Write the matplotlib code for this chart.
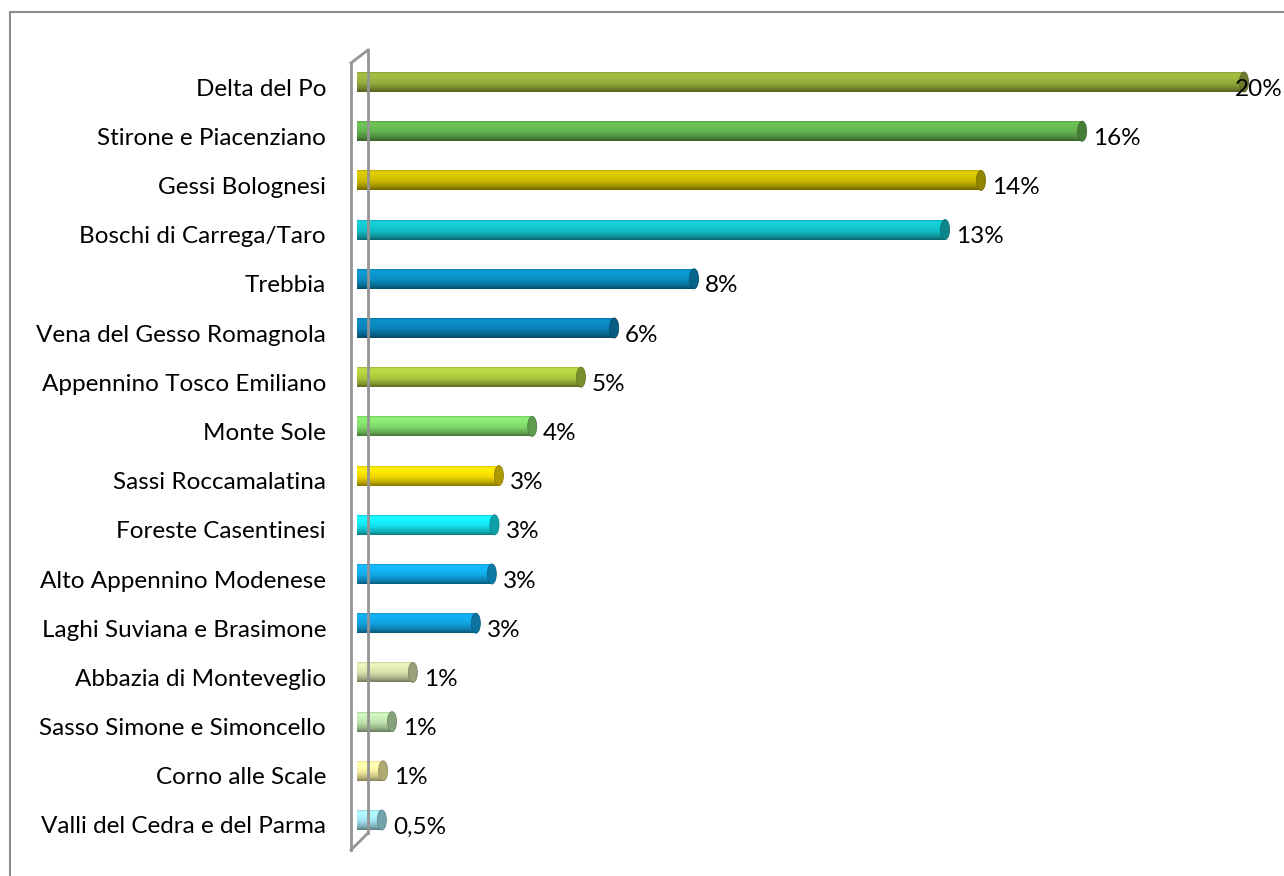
import numpy as np
import matplotlib
matplotlib.use("Agg")
import matplotlib.pyplot as plt
from matplotlib.patches import Ellipse, Rectangle
from matplotlib.lines import Line2D
from matplotlib.colors import to_rgb

plt.rcParams['font.family'] = ['Lato', 'DejaVu Sans']

categories = ["Delta del Po", "Stirone e Piacenziano", "Gessi Bolognesi",
              "Boschi di Carrega/Taro", "Trebbia", "Vena del Gesso Romagnola",
              "Appennino Tosco Emiliano", "Monte Sole", "Sassi Roccamalatina",
              "Foreste Casentinesi", "Alto Appennino Modenese",
              "Laghi Suviana e Brasimone", "Abbazia di Monteveglio",
              "Sasso Simone e Simoncello", "Corno alle Scale",
              "Valli del Cedra e del Parma"]
values = [20.0, 16.35, 14.07, 13.26, 7.6, 5.8, 5.05, 3.95, 3.2, 3.1, 3.04,
          2.68, 1.26, 0.79, 0.59, 0.56]
value_labels = ["20%", "16%", "14%", "13%", "8%", "6%", "5%", "4%", "3%", "3%",
                "3%", "3%", "1%", "1%", "1%", "0,5%"]
colors = ["#94ab3c", "#62b04e", "#c9b800", "#12bcc4", "#0a8cc0", "#0a80b4",
          "#aac63c", "#80d86a", "#f0d600", "#14e0ec", "#12a8e6", "#12a0dc",
          "#d4deaa", "#bcdfaa", "#f4eba0", "#a2e2ee"]

W, H = 1284, 876
fig = plt.figure(figsize=(W / 100, H / 100), dpi=100)

# chart-area border
fig.add_artist(Rectangle((10 / W, -0.05), 1.1, 1 - 12 / H + 0.05,
                         transform=fig.transFigure, fill=False,
                         edgecolor="#8c8c8c", linewidth=1.5))

# axes geometry (pixels)
x0_px, px_per_unit = 357, 44.35
ax_left_px, ax_right_px = 357, 1284
y_top_px, y_bot_px = 50, 850
yc0, ystep = 82, 49.2

ax = fig.add_axes([ax_left_px / W, 1 - y_bot_px / H,
                   (ax_right_px - ax_left_px) / W, (y_bot_px - y_top_px) / H])
ax.set_xlim(0, (ax_right_px - x0_px) / px_per_unit)
ylo = (y_top_px - yc0) / ystep
yhi = (y_bot_px - yc0) / ystep
ax.set_ylim(yhi, ylo)
ax.axis("off")

# 3D wall lines (figure pixel coords)
def fline(xs, ys):
    fig.add_artist(Line2D([x / W for x in xs], [1 - y / H for y in ys],
                          color="#949494", linewidth=2, transform=fig.transFigure))

fline([351, 351], [63, 850])
fline([368, 368], [50, 833])
fline([351, 368], [63, 50])
fline([351, 368], [850, 833])

bh = 20 / ystep
cap_w = 9 / px_per_unit
t = np.linspace(0, 1, 60)
prof = np.interp(t, [0, 0.08, 0.3, 0.55, 0.8, 1.0], [0.92, 1.12, 1.08, 1.0, 0.8, 0.55])
vmax = max(values)

for i, (v, c, lab) in enumerate(zip(values, colors, value_labels)):
    rgb = np.array(to_rgb(c))
    img = np.clip(prof[:, None, None] * rgb[None, None, :], 0, 1)
    rect = Rectangle((0, i - bh / 2), v, bh, facecolor=c, edgecolor="none", zorder=2)
    ax.add_patch(rect)
    im = ax.imshow(img, extent=(0, v, i + bh / 2, i - bh / 2), aspect="auto",
                   zorder=3, interpolation="bilinear")
    im.set_clip_path(rect)
    # left cap
    ax.add_patch(Ellipse((0, i), cap_w, bh, facecolor=tuple(rgb * 0.95),
                         edgecolor="none", zorder=2.5))
    # right cap
    ax.add_patch(Ellipse((v, i), cap_w, bh, facecolor=tuple(rgb * 0.72),
                         edgecolor=tuple(np.clip(rgb * 0.6, 0, 1)), linewidth=0.6,
                         zorder=4))
    dx = -9 if v == vmax else 11
    ax.annotate(lab, xy=(v, i), xytext=(dx, -7), textcoords="offset pixels",
                ha="left", va="center", fontsize=17.5, color="black",
                annotation_clip=False, zorder=5)
    ax.annotate(categories[i], xy=(0, i), xytext=(-31, -7),
                textcoords="offset pixels", ha="right", va="center",
                fontsize=17.5, color="black", annotation_clip=False)

ax.set_xlim(0, (ax_right_px - x0_px) / px_per_unit)
ax.set_ylim(yhi, ylo)

fig.savefig("out.png", dpi=100)
